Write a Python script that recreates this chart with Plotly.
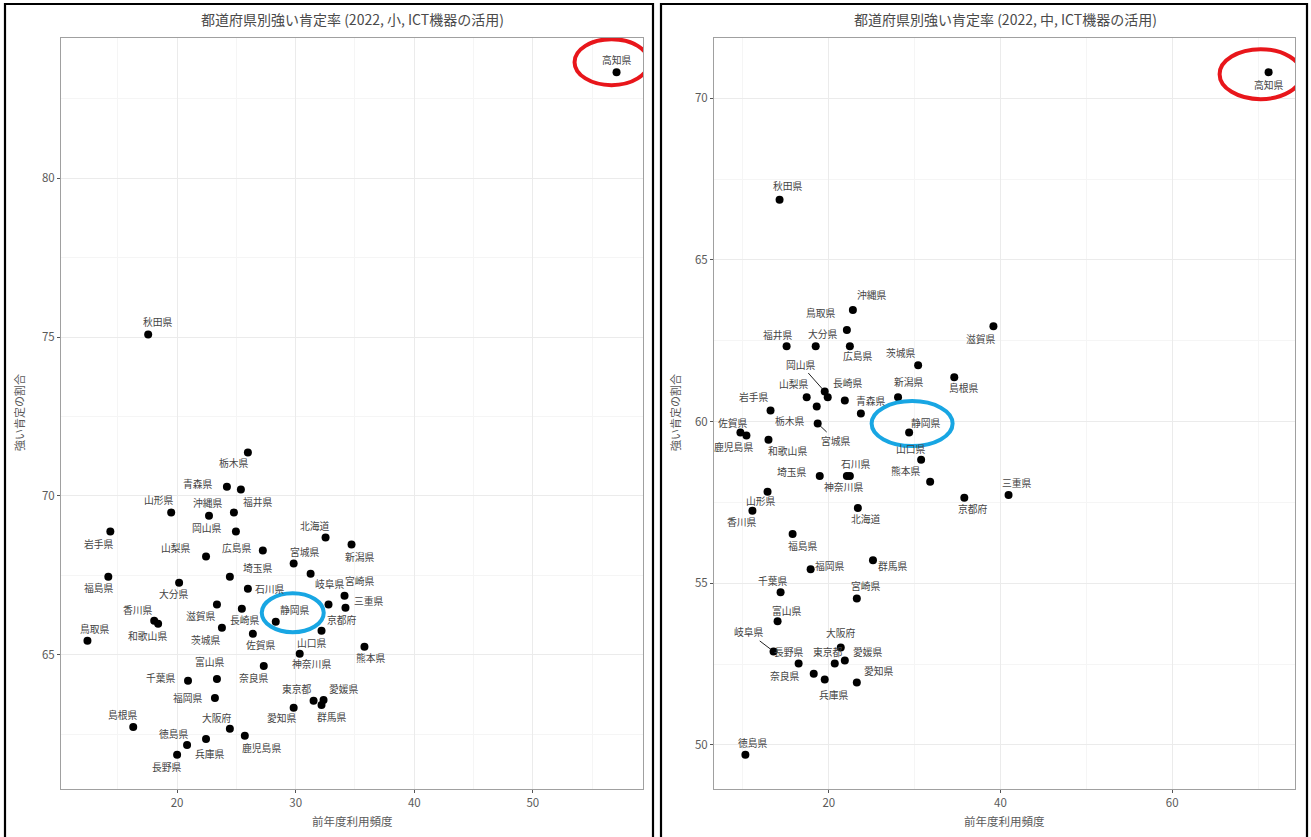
import plotly.graph_objects as go

W, H = 1311, 837

# ---- 小学校 ----
names_sho = ["高知県", "秋田県", "栃木県", "青森県", "全国", "山形県", "沖縄県", "福井県",
             "岡山県", "岩手県", "北海道", "新潟県", "広島県", "山梨県", "宮城県", "岐阜県",
             "福島県", "埼玉県", "大分県", "石川県", "宮崎県", "京都府", "三重県", "滋賀県",
             "長崎県", "静岡県", "香川県", "和歌山県", "茨城県", "佐賀県", "鳥取県", "山口県",
             "神奈川県", "熊本県", "奈良県", "富山県", "千葉県", "福岡県", "島根県", "大阪府",
             "鹿児島県", "兵庫県", "徳島県", "長野県", "愛知県", "東京都", "愛媛県", "群馬県"]
use_sho = [57.06, 17.56, 25.97, 24.20, 25.38, 19.50, 22.69, 24.79,
           24.96, 14.37, 32.52, 34.71, 27.23, 22.44, 29.83, 31.26,
           14.20, 24.45, 20.17, 25.97, 34.12, 32.77, 34.20, 23.36,
           25.46, 28.32, 18.07, 18.40, 23.78, 26.39, 12.44, 32.18,
           30.34, 35.80, 27.31, 23.36, 20.92, 23.19, 16.30, 24.45,
           25.71, 22.44, 20.84, 20.00, 29.83, 31.51, 32.35, 32.18]
rate_sho = [83.34, 75.08, 71.37, 70.29, 70.20, 69.48, 69.38, 69.48,
            68.88, 68.88, 68.69, 68.47, 68.28, 68.09, 67.87, 67.55,
            67.46, 67.46, 67.27, 67.08, 66.86, 66.58, 66.48, 66.58,
            66.45, 66.04, 66.07, 65.98, 65.85, 65.66, 65.44, 65.76,
            65.03, 65.25, 64.65, 64.24, 64.18, 63.64, 62.73, 62.67,
            62.45, 62.35, 62.16, 61.85, 63.33, 63.55, 63.58, 63.42]

# ---- 中学校 ----
names_chu = ["高知県", "秋田県", "沖縄県", "鳥取県", "福井県", "大分県", "広島県", "滋賀県",
             "茨城県", "島根県", "新潟県", "岡山県", "全国", "山梨県", "長崎県", "岩手県",
             "栃木県", "宮城県", "青森県", "佐賀県", "鹿児島県", "和歌山県", "静岡県", "山口県",
             "熊本県", "京都府", "三重県", "埼玉県", "石川県", "神奈川県", "山形県", "香川県",
             "北海道", "福島県", "福岡県", "群馬県", "千葉県", "宮崎県", "富山県", "岐阜県",
             "長野県", "奈良県", "兵庫県", "大阪府", "東京都", "愛媛県", "愛知県", "徳島県"]
use_chu = [71.23, 14.27, 22.81, 22.11, 15.09, 18.48, 22.46, 39.18,
           30.41, 34.62, 28.07, 19.53, 19.88, 17.43, 21.87, 13.22,
           18.60, 18.71, 23.74, 9.71, 10.41, 12.98, 29.36, 30.76,
           31.81, 35.79, 40.94, 18.95, 22.11, 22.46, 12.87, 11.11,
           23.39, 15.79, 17.89, 25.15, 14.39, 23.27, 14.04, 13.57,
           16.49, 18.25, 19.53, 21.40, 20.70, 21.87, 23.27, 10.29]
rate_chu = [70.81, 66.86, 63.45, 62.83, 62.33, 62.33, 62.33, 62.95,
            61.74, 61.37, 60.75, 60.93, 60.75, 60.75, 60.65, 60.34,
            60.47, 59.94, 60.25, 59.66, 59.57, 59.44, 59.66, 58.82,
            58.14, 57.64, 57.73, 58.32, 58.32, 58.32, 57.83, 57.24,
            57.33, 56.52, 55.43, 55.71, 54.72, 54.53, 53.82, 52.89,
            52.52, 52.20, 52.02, 53.01, 52.52, 52.61, 51.93, 49.69]

titles = ["都道府県別強い肯定率 (2022, 小, ICT機器の活用)",
          "都道府県別強い肯定率 (2022, 中, ICT機器の活用)"]
x_title = "前年度利用頻度"
y_title = "強い肯定の割合"

# label placement (pixel offsets from each point, screen direction; None = no label)
off_sho = {
    "高知県": (0, -12), "秋田県": (10, -13), "栃木県": (-14, 11), "青森県": (-29, -3),
    "全国": None, "山形県": (-12, -12), "沖縄県": (-1, -13), "福井県": (24, -10),
    "岡山県": (-29, -4), "岩手県": (-11, 12), "北海道": (-11, -12), "新潟県": (8, 12),
    "広島県": (-26, -3), "山梨県": (-30, -9), "宮城県": (11, -12), "岐阜県": (19, 10),
    "福島県": (-9, 11), "埼玉県": (28, -9), "大分県": (-5, 11), "石川県": (22, 0),
    "宮崎県": (15, -15), "京都府": (13, 15), "三重県": (24, -7), "滋賀県": (-16, 11),
    "長崎県": (3, 11), "静岡県": (19, -12), "香川県": (-16, -11), "和歌山県": (-11, 12),
    "茨城県": (-16, 12), "佐賀県": (8, 11), "鳥取県": (8, -12), "山口県": (-10, 12),
    "神奈川県": (12, 10), "熊本県": (7, 11), "奈良県": (-10, 12), "富山県": (-7, -17),
    "千葉県": (-27, -3), "福岡県": (-27, 0), "島根県": (-10, -12), "大阪府": (-13, -11),
    "鹿児島県": (17, 12), "兵庫県": (4, 15), "徳島県": (-13, -11), "長野県": (-10, 12),
    "愛知県": (-12, 10), "東京都": (-17, -12), "愛媛県": (20, -11), "群馬県": (10, 12),
}
off_chu = {
    "高知県": (0, 13), "秋田県": (8, -14), "沖縄県": (19, -15), "鳥取県": (-26, -17),
    "福井県": (-9, -11), "大分県": (7, -12), "広島県": (8, 10), "滋賀県": (-12, 13),
    "茨城県": (-17, -12), "島根県": (10, 11), "新潟県": (11, -15), "岡山県": (-24, -27),
    "全国": None, "山梨県": (-13, -13), "長崎県": (3, -18), "岩手県": (-17, -14),
    "栃木県": (-27, 15), "宮城県": (18, 17), "青森県": (10, -13), "佐賀県": (-7, -10),
    "鹿児島県": (-13, 12), "和歌山県": (19, 11), "静岡県": (17, -10), "山口県": (-10, -11),
    "熊本県": (-24, -11), "京都府": (9, 11), "三重県": (8, -12), "埼玉県": (-28, -4),
    "石川県": (9, -12), "神奈川県": (-6, 11), "山形県": (-7, 9), "香川県": (-10, 11),
    "北海道": (8, 11), "福島県": (10, 12), "福岡県": (19, -3), "群馬県": (20, 6),
    "千葉県": (-8, -11), "宮崎県": (9, -12), "富山県": (9, -10), "岐阜県": (-25, -19),
    "長野県": (-10, -11), "奈良県": (-29, 2), "兵庫県": (9, 15), "大阪府": (0, -15),
    "東京都": (-7, -11), "愛媛県": (23, -8), "愛知県": (22, -11), "徳島県": (8, -12),
}
segment_labels = {"chu": ["岡山県", "宮城県", "岐阜県"]}

FONT = "Noto Sans CJK JP"
GRID = "#ebebeb"
MINOR = "#f5f5f5"
LABEL_FONT = dict(family=FONT, size=9.8, color="#444")


def padded(vals, frac=0.05):
    lo, hi = min(vals), max(vals)
    pad = (hi - lo) * frac
    return [lo - pad, hi + pad]


# panel geometry (pixels)
panels = [
    dict(key="", left=61, right=643, top=38, bottom=789, cx=352,
         names=names_sho, xs=use_sho, ys=rate_sho, offs=off_sho, seg=[],
         xt=[20, 30, 40, 50], xm=[15, 25, 35, 45, 55],
         yt=[65, 70, 75, 80], ym=[62.5, 67.5, 72.5, 77.5, 82.5],
         box=(5, 653), ytitle_x=19, title=titles[0]),
    dict(key="2", left=714, right=1295, top=38, bottom=789, cx=1005,
         names=names_chu, xs=use_chu, ys=rate_chu, offs=off_chu, seg=segment_labels["chu"],
         xt=[20, 40, 60], xm=[10, 30, 50, 70],
         yt=[50, 55, 60, 65, 70], ym=[47.5, 52.5, 57.5, 62.5, 67.5],
         box=(661, 1307), ytitle_x=675, title=titles[1]),
]

fig = go.Figure()
annotations = []
shapes = []

for p in panels:
    k = p["key"]
    xa, ya = "x" + k, "y" + k
    fig.add_trace(go.Scatter(
        x=p["xs"], y=p["ys"], mode="markers", xaxis=xa, yaxis=ya,
        marker=dict(color="black", size=8), hoverinfo="text", text=p["names"],
        showlegend=False))

    axis_common = dict(showgrid=True, gridcolor=GRID, gridwidth=1, zeroline=False,
                       showline=True, linecolor="#a0a0a0", linewidth=1, mirror=True,
                       ticks="outside", ticklen=3, tickcolor="#555", tickwidth=1,
                       tickfont=dict(family=FONT, size=11.5, color="#5a5a5a"))
    fig.layout["xaxis" + k] = dict(
        domain=[p["left"] / W, p["right"] / W], range=padded(p["xs"]),
        anchor=ya, tickvals=p["xt"],
        minor=dict(tickvals=p["xm"], showgrid=True, gridcolor=MINOR, gridwidth=1, ticks=""),
        **axis_common)
    fig.layout["yaxis" + k] = dict(
        domain=[1 - p["bottom"] / H, 1 - p["top"] / H], range=padded(p["ys"]),
        anchor=xa, tickvals=p["yt"],
        minor=dict(tickvals=p["ym"], showgrid=True, gridcolor=MINOR, gridwidth=1, ticks=""),
        **axis_common)

    # point labels
    for name, xv, yv in zip(p["names"], p["xs"], p["ys"]):
        off = p["offs"].get(name)
        if off is None:
            continue
        dx, dy = off
        if name in p["seg"]:
            annotations.append(dict(
                x=xv, y=yv, xref=xa, yref=ya, text=name, showarrow=True,
                arrowhead=0, arrowwidth=1, arrowcolor="#222", ax=dx, ay=dy,
                standoff=3, font=LABEL_FONT))
        else:
            annotations.append(dict(
                x=xv, y=yv, xref=xa, yref=ya, text=name, showarrow=False,
                xanchor="center", yanchor="middle",
                xshift=dx, yshift=-dy, font=LABEL_FONT))

    # titles
    annotations.append(dict(x=p["cx"] / W, y=1 - 19 / H, xref="paper", yref="paper",
                            xanchor="center", yanchor="middle",
                            text=p["title"], showarrow=False,
                            font=dict(family=FONT, size=14, color="#4a4a4a")))
    annotations.append(dict(x=(p["left"] + p["right"]) / 2 / W, y=1 - 821 / H,
                            xref="paper", yref="paper", xanchor="center", yanchor="middle",
                            text=x_title, showarrow=False,
                            font=dict(family=FONT, size=11.5, color="#5a5a5a")))
    annotations.append(dict(x=p["ytitle_x"] / W, y=1 - 413 / H, xref="paper", yref="paper",
                            xanchor="center", yanchor="middle",
                            text=y_title, textangle=-90, showarrow=False,
                            font=dict(family=FONT, size=11, color="#5a5a5a")))

    # outer frame
    shapes.append(dict(type="rect", xref="paper", yref="paper",
                       x0=p["box"][0] / W, x1=p["box"][1] / W, y0=-0.02, y1=1 - 4 / H,
                       line=dict(color="black", width=2.2), fillcolor="rgba(0,0,0,0)"))

# highlight rings around 高知県 and 静岡県 in each panel
rings = [
    ("", "高知県", (-5, -10), (74, 46), "#e8161b"),
    ("", "静岡県", (17, -9), (62, 39), "#18a6e3"),
    ("2", "高知県", (-8, 2), (82, 50), "#e8161b"),
    ("2", "静岡県", (3, -9), (81, 45), "#18a6e3"),
]
for k, name, (cx, cy), (w, h), col in rings:
    p = panels[0] if k == "" else panels[1]
    i = p["names"].index(name)
    shapes.append(dict(type="circle", xref="x" + k, yref="y" + k,
                       xsizemode="pixel", ysizemode="pixel",
                       xanchor=p["xs"][i], yanchor=p["ys"][i],
                       x0=cx - w / 2, x1=cx + w / 2, y0=-cy - h / 2, y1=-cy + h / 2,
                       line=dict(color=col, width=4)))

fig.update_layout(width=W, height=H, margin=dict(l=0, r=0, t=0, b=0),
                  paper_bgcolor="white", plot_bgcolor="white",
                  annotations=annotations, shapes=shapes,
                  font=dict(family=FONT))

fig.write_html("out.html")
